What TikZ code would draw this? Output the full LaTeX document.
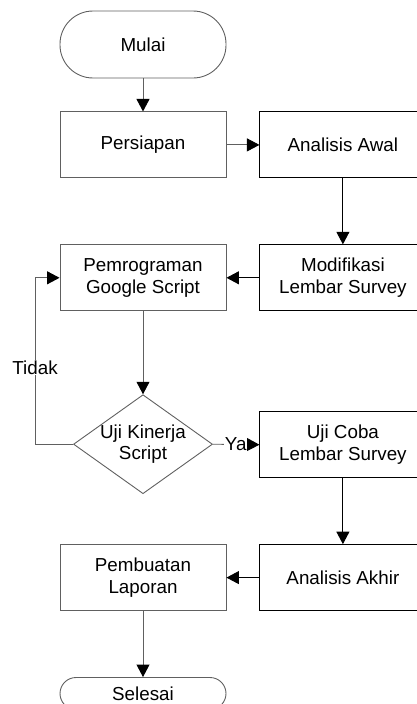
\documentclass[tikz,border=0pt]{standalone}
\usepackage{fontspec}
\setmainfont{Liberation Sans}
\usetikzlibrary{arrows.meta,positioning,shapes.geometric}
\definecolor{garis}{RGB}{96,96,96}
\tikzset{
    >={Triangle[length=12.5pt,width=13pt,black]},
    kotak/.style={
           rectangle,
           draw=garis, line width=0.9pt,
           minimum width=166pt,
           minimum height=66pt,
           inner sep=0pt,
           align=center,
           font=\fontsize{18.8}{21.7}\selectfont},
    kotakh/.style={
           kotak,
           draw=black},
    ujung/.style={
           kotak,
           rounded corners=33pt,
           minimum height=67pt},
    putusan/.style={
           diamond,
           draw=garis, line width=0.9pt,
           minimum width=139pt,
           minimum height=99pt,
           inner sep=0pt},
    teks/.style={
           align=center,
           inner sep=0.5pt,
           fill=white,
           font=\fontsize{18.8}{21.7}\selectfont},
    pil/.style={
           ->,
           draw=garis, line width=0.9pt},
    pilh/.style={
           pil,
           draw=black}
}
\begin{document}
\begin{tikzpicture}[x=1pt, y=1pt]
        \useasboundingbox (0,0) rectangle (417,-704);

        \node[ujung] (mulai) at (143,-44.5) {Mulai};
        \node[kotak, below=33pt of mulai] (persiapan) {Persiapan};
        \node[kotakh, right=33pt of persiapan] (awal) {Analisis Awal};
        \node[kotakh, below=66pt of awal] (modif) {Modifikasi\\Lembar Survey};
        \node[kotak, left=33pt of modif] (program) {Pemrograman\\Google Script};
        \node[putusan, below=83pt of program] (kinerja) {};
        \node[teks, fill=none] (kinerjateks) at (kinerja) {Uji Kinerja\\Script};
        \node[kotakh, below=100pt of modif] (ujicoba) {Uji Coba\\Lembar Survey};
        \node[kotakh, below=66pt of ujicoba] (akhir) {Analisis Akhir};
        \node[kotak, left=33pt of akhir] (laporan) {Pembuatan\\Laporan};
        \node[ujung, rounded corners=16pt, minimum height=32pt, below=66pt of laporan] (selesai) {Selesai};

        \draw[pil] (mulai) -- (persiapan);
        \draw[pil] (persiapan) -- (awal);
        \draw[pilh] (awal) -- (modif);
        \draw[pilh] (modif) -- (program);
        \draw[pil] (program) -- (kinerja);

        \draw[pil] (kinerja.west) -- ++(-38,0) |- (program.west)
                node[teks, pos=0.23] (tidak) {Tidak};
        \draw[pil] (kinerja.east) -- (ujicoba.west)
                node[teks, pos=0.49] (ya) {Ya};

        \draw[pilh] (ujicoba) -- (akhir);
        \draw[pilh] (akhir) -- (laporan);
        \draw[pil] (laporan) -- (selesai);
    \end{tikzpicture}
\end{document}
